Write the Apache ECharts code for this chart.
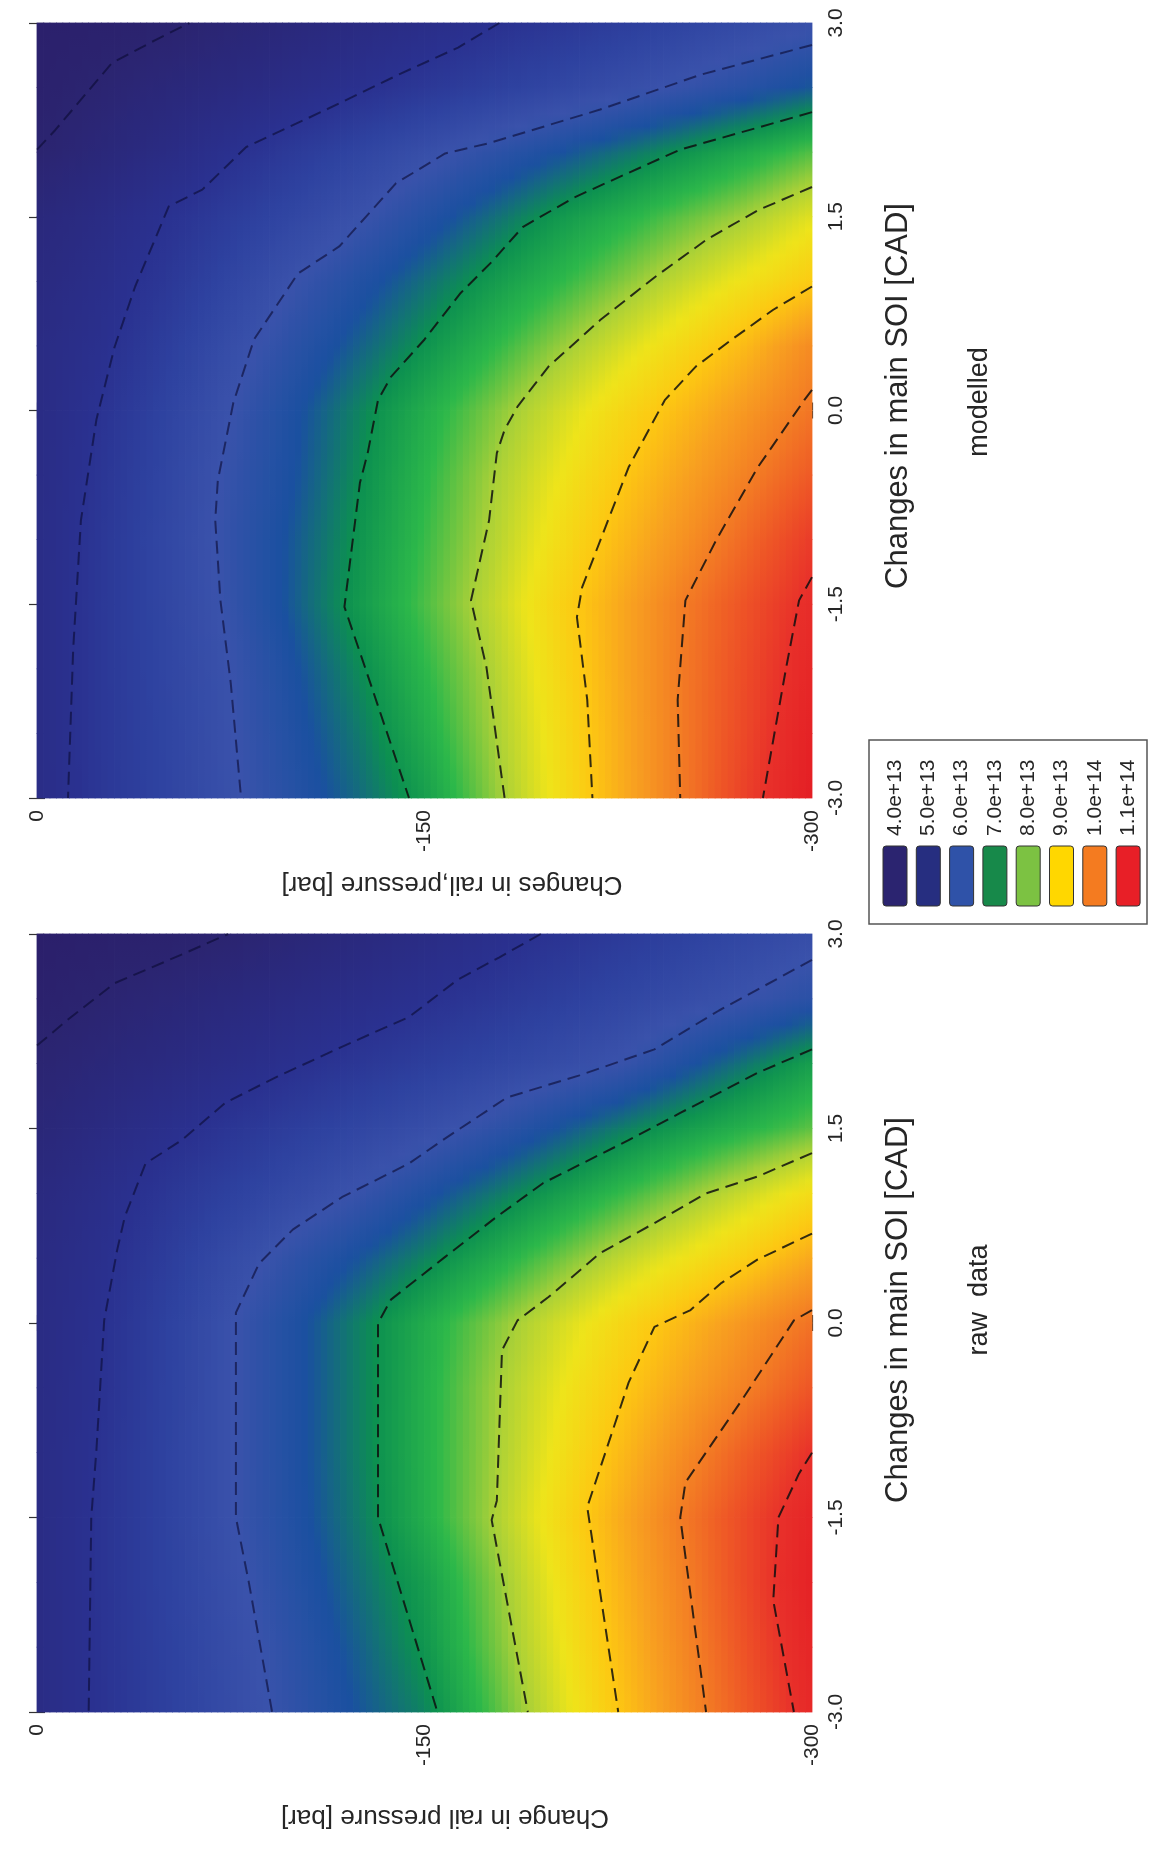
<!DOCTYPE html>
<html>
<head>
<meta charset="utf-8">
<script src="https://cdn.jsdelivr.net/npm/echarts/dist/echarts.min.js"></script>
<style>
html,body{margin:0;padding:0;background:#fff;}
#chart{width:1151px;height:1854px;}
</style>
</head>
<body>
<div id="chart"></div>
<script>
// ---------------- DATA ----------------
// grid nodes
const pressureGrid = [0, -25, -50, -75, -100, -125, -150, -175, -200, -225, -250, -275, -300];
const soiGrid = [3, 2.5, 2, 1.5, 1, 0.5, 0, -0.5, -1, -1.5, -2, -2.5, -3];

// values in units of 1e13, rows follow soiGrid, columns follow pressureGrid
const modelledValues = [
  [3.80,3.85,3.95,4.15,4.35,4.55,4.75,4.97,5.15,5.35,5.55,5.75,5.95],
  [3.85,4.05,4.30,4.50,4.73,4.96,5.20,5.42,5.63,5.85,6.07,6.30,6.55],
  [4.00,4.30,4.62,4.96,5.27,5.58,5.88,6.18,6.46,6.74,7.03,7.33,7.65],
  [4.35,4.65,5.00,5.33,5.65,5.98,6.34,6.70,7.07,7.38,7.70,8.00,8.40],
  [4.50,4.80,5.18,5.60,6.01,6.37,6.73,7.10,7.45,7.82,8.20,8.57,8.95],
  [4.60,4.92,5.37,5.84,6.25,6.64,7.03,7.45,7.88,8.30,8.73,9.20,9.80],
  [4.62,5.06,5.53,6.00,6.45,6.90,7.35,7.80,8.26,8.71,9.17,9.63,10.10],
  [4.65,5.13,5.60,6.08,6.50,6.98,7.46,7.96,8.45,8.95,9.45,9.95,10.45],
  [4.70,5.18,5.65,6.12,6.58,7.05,7.54,8.04,8.60,9.16,9.70,10.27,10.85],
  [4.70,5.20,5.63,6.09,6.60,7.12,7.62,8.14,8.76,9.37,10.00,10.55,11.10],
  [4.70,5.19,5.60,6.00,6.48,6.96,7.48,8.02,8.68,9.36,10.04,10.64,11.25],
  [4.70,5.19,5.57,5.97,6.40,6.83,7.34,7.94,8.60,9.32,10.04,10.70,11.40],
  [4.70,5.18,5.55,5.94,6.32,6.71,7.16,7.84,8.55,9.30,10.04,10.80,11.50]
];
const rawValues = [
  [3.75,3.82,3.90,4.01,4.22,4.43,4.63,4.84,5.05,5.25,5.45,5.65,5.85],
  [3.85,4.02,4.22,4.41,4.60,4.79,4.98,5.18,5.39,5.60,5.81,6.02,6.25],
  [4.05,4.28,4.51,4.73,4.96,5.17,5.38,5.59,5.80,6.01,6.41,6.79,7.18],
  [4.25,4.55,4.86,5.13,5.38,5.62,5.86,6.15,6.49,6.83,7.14,7.42,7.70],
  [4.45,4.78,5.15,5.45,5.75,6.05,6.41,6.77,7.13,7.50,7.87,8.25,8.65],
  [4.55,4.90,5.33,5.78,6.18,6.53,6.89,7.30,7.72,8.14,8.53,8.92,9.40],
  [4.60,4.98,5.46,5.97,6.42,6.88,7.34,7.80,8.26,8.72,9.19,9.66,10.14],
  [4.62,5.00,5.48,5.97,6.42,6.88,7.38,7.91,8.42,8.94,9.45,9.97,10.50],
  [4.65,5.05,5.50,5.97,6.42,6.88,7.39,7.93,8.52,9.14,9.78,10.40,11.00],
  [4.65,5.07,5.50,5.97,6.40,6.84,7.37,7.96,8.63,9.33,10.03,10.67,11.30],
  [4.65,5.07,5.49,5.91,6.32,6.74,7.16,7.80,8.50,9.23,9.93,10.67,11.40],
  [4.65,5.06,5.45,5.84,6.23,6.63,7.06,7.72,8.40,9.12,9.84,10.57,11.30],
  [4.65,5.05,5.43,5.80,6.17,6.54,6.90,7.58,8.28,9.01,9.74,10.46,11.20]
];

// contour levels (1e13) and dashed contour lines [pressure, SOI]
const contourLevels = [4, 5, 6, 7, 8, 9, 10, 11];
const modelledContours = [
  [[0,2.02],[-7,2.17],[-29,2.69],[-46,2.87],[-59,3]],
  [[-179,3],[-163,2.81],[-141,2.61],[-112,2.33],[-81,2.04],[-64,1.71],[-51,1.58],[-38,0.96],[-30,0.49],[-23,-0.07],[-17,-0.85],[-14,-1.85],[-12,-3]],
  [[-300,2.83],[-257,2.6],[-218,2.33],[-175,2.07],[-158,1.99],[-139,1.76],[-117,1.27],[-101,1.06],[-84,0.55],[-76,0.06],[-70,-0.54],[-69,-0.85],[-71,-1.47],[-75,-2.11],[-79,-3]],
  [[-300,2.31],[-279,2.19],[-249,2.02],[-229,1.84],[-208,1.65],[-188,1.42],[-176,1.15],[-164,0.91],[-150,0.55],[-137,0.26],[-132,0.08],[-128,-0.33],[-125,-0.56],[-119,-1.52],[-127,-1.99],[-144,-3]],
  [[-300,1.73],[-279,1.55],[-259,1.32],[-239,1.03],[-218,0.7],[-198,0.34],[-186,0.03],[-181,-0.15],[-178,-0.33],[-175,-0.85],[-168,-1.47],[-174,-1.99],[-181,-3]],
  [[-300,0.96],[-285,0.78],[-269,0.55],[-255,0.34],[-243,0.08],[-229,-0.44],[-211,-1.37],[-209,-1.6],[-213,-2.24],[-215,-3]],
  [[-300,0.16],[-297,0.08],[-279,-0.44],[-263,-1.0],[-251,-1.47],[-248,-2.24],[-249,-3]],
  [[-300,-1.29],[-295,-1.47],[-290,-1.99],[-281,-3]]
];
const rawContours = [
  [[0,2.14],[-12,2.34],[-30,2.62],[-57,2.85],[-74,3]],
  [[-195,3],[-179,2.82],[-163,2.65],[-144,2.36],[-118,2.13],[-93,1.9],[-73,1.7],[-56,1.41],[-42,1.23],[-34,0.82],[-31,0.56],[-26,0.02],[-23,-0.98],[-21,-1.5],[-20,-3]],
  [[-300,2.8],[-264,2.41],[-239,2.11],[-210,1.91],[-182,1.74],[-157,1.41],[-144,1.23],[-118,0.97],[-99,0.72],[-86,0.46],[-77,0.08],[-77,-1.5],[-82,-2.0],[-91,-3]],
  [[-300,2.11],[-279,1.93],[-249,1.62],[-229,1.41],[-208,1.2],[-196,1.08],[-178,0.82],[-158,0.51],[-137,0.18],[-132,0],[-132,-1.5],[-155,-3]],
  [[-300,1.31],[-279,1.13],[-259,1.0],[-239,0.77],[-218,0.54],[-198,0.2],[-186,0.02],[-180,-0.21],[-178,-1.37],[-176,-1.52],[-190,-3]],
  [[-300,0.69],[-279,0.49],[-265,0.31],[-253,0.1],[-239,-0.03],[-229,-0.46],[-213,-1.42],[-225,-3]],
  [[-300,0.1],[-293,0.02],[-273,-0.59],[-251,-1.23],[-249,-1.5],[-259,-3]],
  [[-300,-1.0],[-295,-1.16],[-287,-1.5],[-285,-2.14],[-293,-3]]
];

// axis ticks
const pressureTicks = [0, -150, -300];
const soiTicks = [-3, -1.5, 0, 1.5, 3];

// legend
const legendLabels = ['4.0e+13','5.0e+13','6.0e+13','7.0e+13','8.0e+13','9.0e+13','1.0e+14','1.1e+14'];
const legendColors = ['#2b2470','#262e80','#2f52a8','#17894a','#7cc242','#ffd700','#f47b20','#e81f27'];

// texts
const panelNames = ['modelled', 'raw  data'];
const pressureTitles = ['Changes in rail,pressure [bar]', 'Change in rail pressure [bar]'];
const soiTitle = 'Changes in main SOI [CAD]';

// ---------------- STYLE / LAYOUT ----------------
const FONT = '"Liberation Sans", Arial, Helvetica, sans-serif';
const TXT = '#262626';
const colorScale = ['#2b1a66','#2b2470','#2a2a80','#2a3190','#2e42a0','#3a52ab','#1a50a0','#0c9050','#2cb84a',
                    '#a8d038','#eee41a','#fdc812','#f8a020','#f37d24','#ee5526','#e8302a','#e41e24'];
const valueMin = 3.5, valueMax = 11.5;
const grids = [
  {left: 37, top: 23, width: 775, height: 775},
  {left: 37, top: 934, width: 775, height: 778}
];

// colour scale lookup (same scale for every cell)
const scaleRGB = colorScale.map(h => [parseInt(h.slice(1,3),16), parseInt(h.slice(3,5),16), parseInt(h.slice(5,7),16)]);
function colorOf(v) {
  let t = (v - valueMin) / (valueMax - valueMin);
  t = Math.max(0, Math.min(1, t)) * (scaleRGB.length - 1);
  const i = Math.min(scaleRGB.length - 2, Math.floor(t)), f = t - i;
  const a = scaleRGB[i], b = scaleRGB[i + 1];
  return 'rgb(' + [0,1,2].map(k => Math.round(a[k] + (b[k] - a[k]) * f)).join(',') + ')';
}

function nodeData(values) {
  const out = [];
  values.forEach((row, i) => row.forEach((v, j) => out.push([pressureGrid[j], soiGrid[i], v])));
  return out;
}

// each node item paints the patch between it and its right / lower neighbours
function makeRenderer(values) {
  const nCol = pressureGrid.length, nRow = soiGrid.length;
  const STRIPS = 10, STOPS = 6;
  return function (params, api) {
    const i = Math.floor(params.dataIndex / nCol), j = params.dataIndex % nCol;
    if (i >= nRow - 1 || j >= nCol - 1) return null;
    const A = api.coord([pressureGrid[j], soiGrid[i]]);
    const B = api.coord([pressureGrid[j + 1], soiGrid[i + 1]]);
    const v00 = values[i][j], v01 = values[i][j + 1], v10 = values[i + 1][j], v11 = values[i + 1][j + 1];
    const w = (B[0] - A[0]) / STRIPS, h = B[1] - A[1];
    const children = [];
    for (let k = 0; k < STRIPS; k++) {
      const t = (k + 0.5) / STRIPS;
      const top = v00 + (v01 - v00) * t, bot = v10 + (v11 - v10) * t;
      const stops = [];
      for (let m = 0; m < STOPS; m++) {
        const u = m / (STOPS - 1);
        stops.push({offset: u, color: colorOf(top + (bot - top) * u)});
      }
      children.push({type: 'rect',
        shape: {x: A[0] + w * k - 0.4, y: A[1] - 0.4, width: w + 0.8, height: h + 0.8},
        style: {fill: {type: 'linear', x: 0, y: 0, x2: 0, y2: 1, colorStops: stops}}});
    }
    return {type: 'group', children: children};
  };
}

const xAxes = [], yAxes = [], series = [];
grids.forEach((g, gi) => {
  const tickStyle = {show: true, length: 8, lineStyle: {color: '#333', width: 1.2}};
  xAxes.push({gridIndex: gi, type: 'value', min: -300, max: 0, interval: 150, inverse: true, position: 'bottom',
    axisLine: {show: false}, axisTick: tickStyle, splitLine: {show: false},
    axisLabel: {show: true, rotate: 90, margin: 12, fontSize: 21, fontFamily: FONT, color: TXT,
      formatter: v => pressureTicks.includes(v) ? String(v) : ''}});
  xAxes.push({gridIndex: gi, type: 'value', min: -300, max: 0, interval: 150, inverse: true, position: 'top',
    axisLine: {show: false}, axisTick: tickStyle, splitLine: {show: false}, axisLabel: {show: false}});
  yAxes.push({gridIndex: gi, type: 'value', min: -3, max: 3, interval: 1.5, position: 'right',
    axisLine: {show: false}, axisTick: tickStyle, splitLine: {show: false},
    axisLabel: {show: true, rotate: 90, margin: 14, fontSize: 21, fontFamily: FONT, color: TXT,
      formatter: v => soiTicks.includes(v) ? v.toFixed(1) : ''}});
  yAxes.push({gridIndex: gi, type: 'value', min: -3, max: 3, interval: 1.5, position: 'left',
    axisLine: {show: false}, axisTick: tickStyle, splitLine: {show: false}, axisLabel: {show: false}});
});

[modelledValues, rawValues].forEach((vals, gi) => {
  series.push({
    type: 'custom', name: panelNames[gi], xAxisIndex: gi * 2, yAxisIndex: gi * 2,
    data: nodeData(vals), encode: {x: 0, y: 1}, renderItem: makeRenderer(vals), silent: true, z: 1
  });
});
[modelledContours, rawContours].forEach((lines, gi) => {
  lines.forEach((pts, k) => {
    series.push({
      type: 'line', name: panelNames[gi] + ' ' + contourLevels[k], xAxisIndex: gi * 2, yAxisIndex: gi * 2,
      data: pts, showSymbol: false, symbol: 'none', silent: true, z: 5, clip: true, animation: false,
      lineStyle: {color: contourLevels[k] <= 6 ? 'rgba(10,10,50,0.6)' : 'rgba(15,15,15,0.85)', width: 2, type: [13, 7]}
    });
  });
});

// graphic texts & legend
const graphics = [];
function rotText(text, x, y, rot, size, align) {
  return {type: 'text', x: x, y: y, rotation: rot, silent: true,
    style: {text: text, fontSize: size, fontFamily: FONT, fill: TXT,
      align: align || 'center', verticalAlign: 'middle', textAlign: align || 'center', textVerticalAlign: 'middle'}};
}
const soiTitleY = [396, 1310];
const nameY = [402, 1300];
const pTitle = [[452, 884], [445, 1817]];
[0, 1].forEach(gi => {
  graphics.push(rotText(soiTitle, 898, soiTitleY[gi], Math.PI / 2, 31));
  graphics.push(rotText(panelNames[gi], 980, nameY[gi], Math.PI / 2, 27));
  graphics.push(rotText(pressureTitles[gi], pTitle[gi][0], pTitle[gi][1], Math.PI, 26));
});
graphics.push({type: 'rect', silent: true, shape: {x: 869, y: 740, width: 278, height: 184},
  style: {fill: '#fff', stroke: '#555', lineWidth: 1.5}});
legendLabels.forEach((lab, i) => {
  const x0 = 883 + i * 33.3;
  graphics.push({type: 'rect', silent: true, shape: {x: x0, y: 846, width: 24, height: 60, r: 3},
    style: {fill: legendColors[i], stroke: '#333', lineWidth: 1}});
  graphics.push(rotText(lab, x0 + 12, 836, Math.PI / 2, 21, 'left'));
});

const chart = echarts.init(document.getElementById('chart'), null, {renderer: 'canvas'});
chart.setOption({
  animation: false,
  backgroundColor: '#fff',
  grid: grids,
  xAxis: xAxes,
  yAxis: yAxes,
  series: series,
  graphic: graphics
});
</script>
</body>
</html>
